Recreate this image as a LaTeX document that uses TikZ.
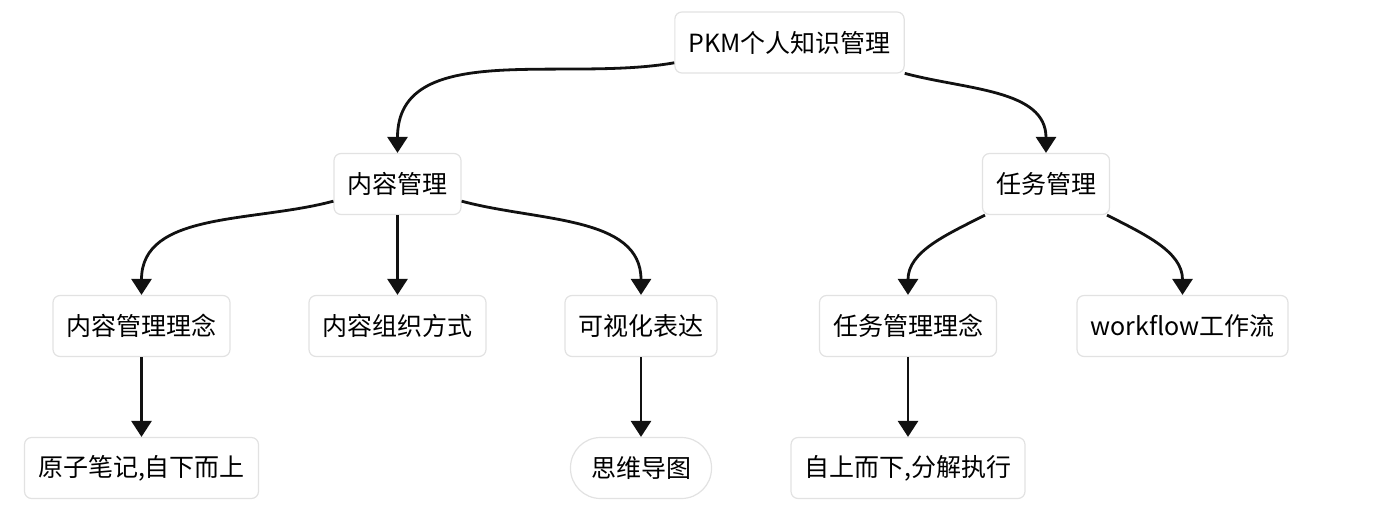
\documentclass[tikz,border=0pt]{standalone}
\usepackage{fontspec}
\setmainfont{Noto Sans CJK SC}
\usepackage{tikz}
\usetikzlibrary{arrows.meta, positioning}
\definecolor{boxline}{HTML}{E2E2E2}
\definecolor{edgeline}{HTML}{111111}
\tikzset{
->, % every connector is directed
>={Triangle[length=16pt,width=20pt]}, % big filled heads
every edge/.style={draw=edgeline, line width=2.8pt}, % the connectors
topic/.style={draw=boxline, line width=1.2pt, fill=white, rounded corners=7pt, minimum height=61pt, inner xsep=13.5pt, font=\fontsize{25}{29}\selectfont, -}, % sets the properties for each box
pill/.style={topic, rounded corners=30pt, inner xsep=20.5pt}, % round ended box
}
\begin{document}
\begin{tikzpicture}[x=1pt, y=-1pt]
                \useasboundingbox (0,0) rectangle (1380,530);
                \node[topic] (pkm) at (789.5,42.5) {PKM个人知识管理};
                \node[topic] (nr) at (397.5,184) {内容管理};
                \node[topic] (rw) at (1046,184) {任务管理};
                \node[topic] (nrln) at (141.5,326) {内容管理理念};
                \node[topic] (zz) at (397.5,326) {内容组织方式};
                \node[topic] (ksh) at (641,326) {可视化表达};
                \node[topic] (rwln) at (908,326) {任务管理理念};
                \node[topic] (wf) at (1182.5,326) {workflow工作流};
                \node[topic] (yz) at (141.5,468) {原子笔记,自下而上};
                \node[pill] (swdt) at (641,468) {思维导图};
                \node[topic] (zs) at (908,468) {自上而下,分解执行};
                \draw
                    (pkm) edge[out=190, in=90] (nr)
                    (pkm) edge[out=-15, in=90] (rw)
                    (nr) edge[out=195, in=90] (nrln)
                    (nr) edge (zz)
                    (nr) edge[out=-15, in=90] (ksh)
                    (rw) edge[out=207, in=90] (rwln)
                    (rw) edge[out=-27, in=90] (wf)
                    (nrln) edge (yz)
                    (ksh) edge (swdt)
                    (rwln) edge (zs)
                    ;
                \end{tikzpicture}
\end{document}
